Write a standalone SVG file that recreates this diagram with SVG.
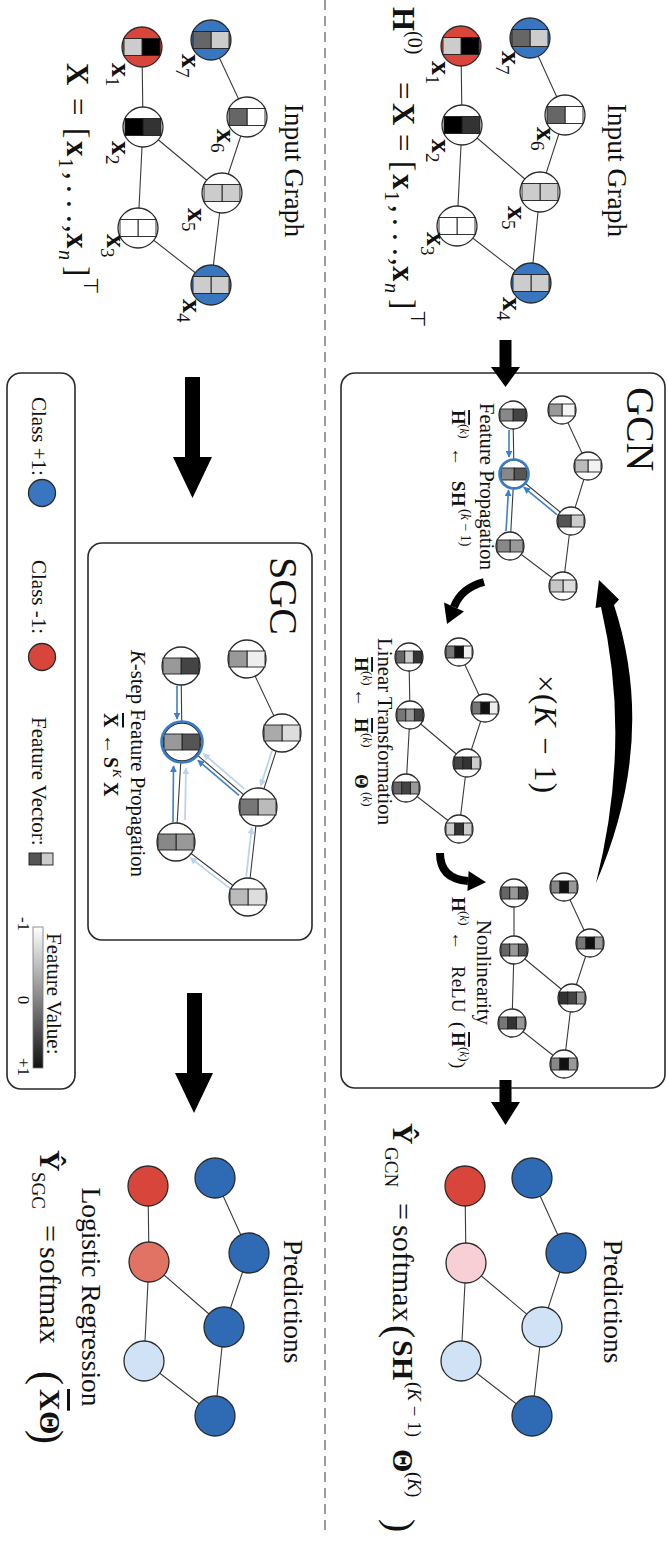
<svg xmlns="http://www.w3.org/2000/svg" width="668" height="1542" viewBox="0 0 668 1542">
<defs>
<style>
text{font-family:"Liberation Serif","Times New Roman",serif;fill:#111}
.b{font-weight:bold}
.n{font-weight:normal}
.it{font-style:italic}
.ov{text-decoration:overline}
.edge{stroke:#3a3a3a;stroke-width:1.1;fill:none}
.nd{stroke:#2a2a2a;stroke-width:1.3}
.c{stroke:#1e1e1e;stroke-width:0.9}
.ring{fill:none;stroke:#3a7cc3;stroke-width:2.6}
.prop{stroke:#3d7fcb;stroke-width:1.6;fill:none;marker-end:url(#ah)}
.prop2{stroke:#bcd3ee;stroke-width:1.8;fill:none;marker-end:url(#ah2)}
.box{fill:none;stroke:#2a2a2a;stroke-width:1.6}
.cb{fill:#3877c0}
.cr{fill:#d8463b}
.pb{fill:#2e6bb4}
.pl{fill:#cfe2f6}
.pp{fill:#f7cfd5}
.ps{fill:#e07364}
.w{fill:#fff}
.big{fill:#000}
</style>
<marker id="ah" viewBox="0 0 10 10" refX="9" refY="5" markerWidth="7" markerHeight="7" markerUnits="userSpaceOnUse" orient="auto"><path d="M0 0L10 5L0 10z" fill="#3d7fcb"/></marker>
<marker id="ah2" viewBox="0 0 10 10" refX="9" refY="5" markerWidth="7" markerHeight="7" markerUnits="userSpaceOnUse" orient="auto"><path d="M0 0L10 5L0 10z" fill="#bcd3ee"/></marker>
<linearGradient id="fv" x1="0" y1="0" x2="1" y2="0"><stop offset="0" stop-color="#fff"/><stop offset="1" stop-color="#111"/></linearGradient>
</defs>
<rect width="668" height="1542" fill="#fff"/>
<!-- the figure is laid out landscape and turned a quarter turn clockwise -->
<g transform="matrix(0 1 -1 0 668 0)">

<!-- separator between the GCN row and the SGC row -->
<line x1="0" y1="343" x2="1533" y2="343" stroke="#666" stroke-width="1.3" stroke-dasharray="10 6"/>

<!-- frames -->
<rect class="box" x="373" y="3" width="715" height="324" rx="14"/>
<rect class="box" x="543" y="356" width="397" height="224" rx="14"/>
<rect class="box" x="373" y="593" width="716" height="68" rx="14"/>

<g id="connectors">
  <!-- graph edges -->
  <path class="edge" d="M38 138L115 103L192 128L283 137M46 207L125 206L226 211L283 137M125 206L192 128"/>
  <path class="edge" d="M40 457L117 421L193 446L285 457M47 526L127 525L228 530L285 457M127 525L193 446"/>
  <path class="edge" d="M410 106L466 80L521 97L586 105M415 155L474 154L546 158L586 105M474 154L521 97"/>
  <path class="edge" d="M652 209L708 183L763 201L829 209M657 259L715 258L788 262L829 209M715 258L763 201"/>
  <path class="edge" d="M887 104L943 78L998 96L1064 104M893 154L950 154L1023 156L1064 104M950 154L998 96"/>
  <path class="edge" d="M1178 136L1253 102L1327 126L1416 136M1186 203L1263 202L1361 207L1416 136M1263 202L1327 126"/>
  <path class="edge" d="M659 421L733 386L807 410L897 420M666 487L742 486L842 492L897 420M742 486L807 410"/>
  <path class="edge" d="M1178 453L1253 419L1327 444L1416 453M1186 520L1262 519L1361 524L1416 453M1262 519L1327 444"/>

  <!-- one-hop propagation inside the GCN layer -->
  <line class="prop" x1="430" y1="159" x2="457" y2="159"/>
  <line class="prop" x1="531" y1="162" x2="490" y2="159.5"/>
  <line class="prop" x1="514.6" y1="111.1" x2="487.3" y2="144.2"/>

  <!-- K-step propagation in SGC -->
  <line class="prop2" x1="750.8" y1="396" x2="785.8" y2="407.3"/>
  <line class="prop2" x1="876.7" y1="421.8" x2="827.5" y2="416.3"/>
  <line class="prop2" x1="888.1" y1="438.3" x2="857.9" y2="477.7"/>
  <line class="prop2" x1="820" y1="483" x2="768" y2="482"/>
  <line class="prop2" x1="788.9" y1="423.5" x2="753.8" y2="464.5"/>
  <line class="prop" x1="686" y1="491" x2="719" y2="491"/>
  <line class="prop" x1="822" y1="495" x2="766" y2="494.5"/>
  <line class="prop" x1="795.4" y1="429" x2="760.3" y2="470.1"/>

  <!-- block arrows between stages -->
  <polygon class="big" points="340,156.5 367,156.5 367,148 387,162.5 367,177 367,168.5 340,168.5"/>
  <polygon class="big" points="1080,156.5 1102,156.5 1102,148 1125,162.5 1102,177 1102,168.5 1080,168.5"/>
  <polygon class="big" points="377,468 457,468 457,456 498,475.5 457,495 457,483 377,483"/>
  <polygon class="big" points="993,466 1073,466 1073,455 1113,474 1073,493 1073,481 993,481"/>

  <!-- layer loop -->
  <path class="big" d="M883 72Q740 10 605 54L599.5 49L580 69L608 72.5L607 67Q740 36 883 72Z"/>
  <path d="M582 184Q588 207 607 214" fill="none" stroke="#000" stroke-width="8"/>
  <polygon class="big" points="602.5,224 624,221 611.5,204"/>
  <path d="M853 228Q879 228 881 200" fill="none" stroke="#000" stroke-width="8"/>
  <polygon class="big" points="891,200.6 882.2,182 871,199.4"/>
</g>

<!-- GCN input graph -->
<g id="gcn-in-x7" transform="translate(38 138)"><circle class="nd cb" r="20"/><rect class="c" x="-8.5" y="-18" width="17" height="18" fill="#ccc"/><rect class="c" x="-8.5" y="0" width="17" height="18" fill="#666"/></g>
<g id="gcn-in-x6" transform="translate(115 103)"><circle class="nd w" r="20"/><rect class="c" x="-8.5" y="-18" width="17" height="18" fill="#fff"/><rect class="c" x="-8.5" y="0" width="17" height="18" fill="#666"/></g>
<g id="gcn-in-x5" transform="translate(192 128)"><circle class="nd w" r="20"/><rect class="c" x="-8.5" y="-18" width="17" height="18" fill="#ccc"/><rect class="c" x="-8.5" y="0" width="17" height="18" fill="#ccc"/></g>
<g id="gcn-in-x4" transform="translate(283 137)"><circle class="nd cb" r="20"/><rect class="c" x="-8.5" y="-18" width="17" height="18" fill="#ccc"/><rect class="c" x="-8.5" y="0" width="17" height="18" fill="#ccc"/></g>
<g id="gcn-in-x1" transform="translate(46 207)"><circle class="nd cr" r="20"/><rect class="c" x="-8.5" y="-18" width="17" height="18" fill="#000"/><rect class="c" x="-8.5" y="0" width="17" height="18" fill="#ccc"/></g>
<g id="gcn-in-x2" transform="translate(125 206)"><circle class="nd w" r="20"/><rect class="c" x="-8.5" y="-18" width="17" height="18" fill="#333"/><rect class="c" x="-8.5" y="0" width="17" height="18" fill="#000"/></g>
<g id="gcn-in-x3" transform="translate(226 211)"><circle class="nd w" r="20"/><rect class="c" x="-8.5" y="-18" width="17" height="18" fill="#fff"/><rect class="c" x="-8.5" y="0" width="17" height="18" fill="#fff"/></g>
<g id="gcn-in-labels" font-size="28">
  <text x="51" y="166" class="b">x<tspan class="n" font-size="19" dy="6">7</tspan></text>
  <text x="61" y="236" class="b">x<tspan class="n" font-size="19" dy="6">1</tspan></text>
  <text x="139" y="236" class="b">x<tspan class="n" font-size="19" dy="6">2</tspan></text>
  <text x="127" y="131" class="b">x<tspan class="n" font-size="19" dy="6">6</tspan></text>
  <text x="206" y="160" class="b">x<tspan class="n" font-size="19" dy="6">5</tspan></text>
  <text x="232" y="241" class="b">x<tspan class="n" font-size="19" dy="6">3</tspan></text>
  <text x="297" y="165" class="b">x<tspan class="n" font-size="19" dy="6">4</tspan></text>
</g>
<text x="170.5" y="60" font-size="27.5" text-anchor="middle">Input Graph</text>
<text y="275" font-size="31"><tspan x="7" class="b">H</tspan><tspan x="31" y="260" font-size="20">(0)</tspan><tspan x="82" y="275">=</tspan><tspan x="103" class="b">X</tspan><tspan x="134">=</tspan><tspan x="161">[</tspan><tspan x="174" class="b">x</tspan><tspan x="191" y="283" font-size="20">1</tspan><tspan x="205" y="275">,</tspan><tspan x="218">.</tspan><tspan x="233">.</tspan><tspan x="248">.</tspan><tspan x="258">,</tspan><tspan x="266" class="b">x</tspan><tspan x="283" y="283" font-size="20" class="it">n</tspan><tspan x="299" y="275">]</tspan><tspan x="310" y="257" font-size="20">⊤</tspan></text>

<!-- SGC input graph -->
<g id="sgc-in-x7" transform="translate(40 457)"><circle class="nd cb" r="20"/><rect class="c" x="-8.5" y="-18" width="17" height="18" fill="#ccc"/><rect class="c" x="-8.5" y="0" width="17" height="18" fill="#666"/></g>
<g id="sgc-in-x6" transform="translate(117 421)"><circle class="nd w" r="20"/><rect class="c" x="-8.5" y="-18" width="17" height="18" fill="#fff"/><rect class="c" x="-8.5" y="0" width="17" height="18" fill="#666"/></g>
<g id="sgc-in-x5" transform="translate(193 446)"><circle class="nd w" r="20"/><rect class="c" x="-8.5" y="-18" width="17" height="18" fill="#ccc"/><rect class="c" x="-8.5" y="0" width="17" height="18" fill="#ccc"/></g>
<g id="sgc-in-x4" transform="translate(285 457)"><circle class="nd cb" r="20"/><rect class="c" x="-8.5" y="-18" width="17" height="18" fill="#ccc"/><rect class="c" x="-8.5" y="0" width="17" height="18" fill="#ccc"/></g>
<g id="sgc-in-x1" transform="translate(47 526)"><circle class="nd cr" r="20"/><rect class="c" x="-8.5" y="-18" width="17" height="18" fill="#000"/><rect class="c" x="-8.5" y="0" width="17" height="18" fill="#ccc"/></g>
<g id="sgc-in-x2" transform="translate(127 525)"><circle class="nd w" r="20"/><rect class="c" x="-8.5" y="-18" width="17" height="18" fill="#333"/><rect class="c" x="-8.5" y="0" width="17" height="18" fill="#000"/></g>
<g id="sgc-in-x3" transform="translate(228 530)"><circle class="nd w" r="20"/><rect class="c" x="-8.5" y="-18" width="17" height="18" fill="#fff"/><rect class="c" x="-8.5" y="0" width="17" height="18" fill="#fff"/></g>
<g id="sgc-in-labels" font-size="28">
  <text x="54" y="486" class="b">x<tspan class="n" font-size="19" dy="6">7</tspan></text>
  <text x="63" y="556" class="b">x<tspan class="n" font-size="19" dy="6">1</tspan></text>
  <text x="141" y="556" class="b">x<tspan class="n" font-size="19" dy="6">2</tspan></text>
  <text x="129" y="451" class="b">x<tspan class="n" font-size="19" dy="6">6</tspan></text>
  <text x="208" y="480" class="b">x<tspan class="n" font-size="19" dy="6">5</tspan></text>
  <text x="234" y="561" class="b">x<tspan class="n" font-size="19" dy="6">3</tspan></text>
  <text x="299" y="485" class="b">x<tspan class="n" font-size="19" dy="6">4</tspan></text>
</g>
<text x="170.5" y="383" font-size="27.5" text-anchor="middle">Input Graph</text>
<text y="601" font-size="31"><tspan x="63" class="b">X</tspan><tspan x="98">=</tspan><tspan x="128">[</tspan><tspan x="141" class="b">x</tspan><tspan x="158" y="609" font-size="20">1</tspan><tspan x="172" y="601">,</tspan><tspan x="185">.</tspan><tspan x="200">.</tspan><tspan x="215">.</tspan><tspan x="225">,</tspan><tspan x="233" class="b">x</tspan><tspan x="250" y="609" font-size="20" class="it">n</tspan><tspan x="266" y="601">]</tspan><tspan x="277" y="584" font-size="20">⊤</tspan></text>

<!-- GCN layer: feature propagation -->
<text x="387" y="41" font-size="40">GCN</text>
<g id="s1-x7" transform="translate(410 106)"><circle class="nd w" r="14"/><rect class="c" x="-6" y="-13" width="12" height="13" fill="#f4f4f4"/><rect class="c" x="-6" y="0" width="12" height="13" fill="#999"/></g>
<g id="s1-x6" transform="translate(466 80)"><circle class="nd w" r="14"/><rect class="c" x="-6" y="-13" width="12" height="13" fill="#f2f2f2"/><rect class="c" x="-6" y="0" width="12" height="13" fill="#bbb"/></g>
<g id="s1-x5" transform="translate(521 97)"><circle class="nd w" r="14"/><rect class="c" x="-6" y="-13" width="12" height="13" fill="#ccc"/><rect class="c" x="-6" y="0" width="12" height="13" fill="#555"/></g>
<g id="s1-x4" transform="translate(586 105)"><circle class="nd w" r="14"/><rect class="c" x="-6" y="-13" width="12" height="13" fill="#ddd"/><rect class="c" x="-6" y="0" width="12" height="13" fill="#c6c6c6"/></g>
<g id="s1-x1" transform="translate(415 155)"><circle class="nd w" r="14"/><rect class="c" x="-6" y="-13" width="12" height="13" fill="#444"/><rect class="c" x="-6" y="0" width="12" height="13" fill="#888"/></g>
<g id="s1-x2" transform="translate(474 154)"><circle class="nd w" r="14"/><rect class="c" x="-6" y="-13" width="12" height="13" fill="#555"/><rect class="c" x="-6" y="0" width="12" height="13" fill="#888"/><circle class="ring" r="14.5"/></g>
<g id="s1-x3" transform="translate(546 158)"><circle class="nd w" r="14"/><rect class="c" x="-6" y="-13" width="12" height="13" fill="#999"/><rect class="c" x="-6" y="0" width="12" height="13" fill="#888"/></g>
<text x="486.5" y="188" font-size="20.5" text-anchor="middle" textLength="167" lengthAdjust="spacingAndGlyphs">Feature Propagation</text>
<text y="216" font-size="19"><tspan x="410" class="b ov">H</tspan><tspan x="424" y="208" font-size="13">(<tspan class="it">k</tspan>)</tspan><tspan x="447" y="216">←</tspan><tspan x="481" class="b">S</tspan><tspan x="492" class="b">H</tspan><tspan x="509" y="207" font-size="14">(<tspan class="it">k</tspan> − 1)</tspan></text>

<!-- GCN layer: linear transformation -->
<g id="s2-x7" transform="translate(652 209)"><circle class="nd w" r="14"/><rect class="c" x="-6" y="-13" width="12" height="8.67" fill="#f2f2f2"/><rect class="c" x="-6" y="-4.33" width="12" height="8.67" fill="#111"/><rect class="c" x="-6" y="4.33" width="12" height="8.67" fill="#777"/></g>
<g id="s2-x6" transform="translate(708 183)"><circle class="nd w" r="14"/><rect class="c" x="-6" y="-13" width="12" height="8.67" fill="#eee"/><rect class="c" x="-6" y="-4.33" width="12" height="8.67" fill="#111"/><rect class="c" x="-6" y="4.33" width="12" height="8.67" fill="#777"/></g>
<g id="s2-x5" transform="translate(763 201)"><circle class="nd w" r="14"/><rect class="c" x="-6" y="-13" width="12" height="8.67" fill="#ccc"/><rect class="c" x="-6" y="-4.33" width="12" height="8.67" fill="#333"/><rect class="c" x="-6" y="4.33" width="12" height="8.67" fill="#444"/></g>
<g id="s2-x4" transform="translate(829 209)"><circle class="nd w" r="14"/><rect class="c" x="-6" y="-13" width="12" height="8.67" fill="#ccc"/><rect class="c" x="-6" y="-4.33" width="12" height="8.67" fill="#333"/><rect class="c" x="-6" y="4.33" width="12" height="8.67" fill="#ccc"/></g>
<g id="s2-x1" transform="translate(657 259)"><circle class="nd w" r="14"/><rect class="c" x="-6" y="-13" width="12" height="8.67" fill="#333"/><rect class="c" x="-6" y="-4.33" width="12" height="8.67" fill="#ccc"/><rect class="c" x="-6" y="4.33" width="12" height="8.67" fill="#666"/></g>
<g id="s2-x2" transform="translate(715 258)"><circle class="nd w" r="14"/><rect class="c" x="-6" y="-13" width="12" height="8.67" fill="#444"/><rect class="c" x="-6" y="-4.33" width="12" height="8.67" fill="#999"/><rect class="c" x="-6" y="4.33" width="12" height="8.67" fill="#777"/></g>
<g id="s2-x3" transform="translate(788 262)"><circle class="nd w" r="14"/><rect class="c" x="-6" y="-13" width="12" height="8.67" fill="#999"/><rect class="c" x="-6" y="-4.33" width="12" height="8.67" fill="#444"/><rect class="c" x="-6" y="4.33" width="12" height="8.67" fill="#666"/></g>
<text x="675" y="133" font-size="31" textLength="118" lengthAdjust="spacing">×(<tspan class="it">K</tspan> − 1)</text>
<text x="731.5" y="290" font-size="20.5" text-anchor="middle" textLength="187" lengthAdjust="spacingAndGlyphs">Linear Transformation</text>
<text y="313" font-size="19"><tspan x="657" class="b ov">H</tspan><tspan x="671" y="305" font-size="13">(<tspan class="it">k</tspan>)</tspan><tspan x="688" y="313">←</tspan><tspan x="718" class="b ov">H</tspan><tspan x="733" y="305" font-size="13">(<tspan class="it">k</tspan>)</tspan><tspan x="774" y="313" class="b">Θ</tspan><tspan x="792" y="305" font-size="13">(<tspan class="it">k</tspan>)</tspan></text>

<!-- GCN layer: nonlinearity -->
<g id="s3-x7" transform="translate(887 104)"><circle class="nd w" r="14"/><rect class="c" x="-6" y="-13" width="12" height="8.67" fill="#999"/><rect class="c" x="-6" y="-4.33" width="12" height="8.67" fill="#111"/><rect class="c" x="-6" y="4.33" width="12" height="8.67" fill="#888"/></g>
<g id="s3-x6" transform="translate(943 78)"><circle class="nd w" r="14"/><rect class="c" x="-6" y="-13" width="12" height="8.67" fill="#999"/><rect class="c" x="-6" y="-4.33" width="12" height="8.67" fill="#111"/><rect class="c" x="-6" y="4.33" width="12" height="8.67" fill="#777"/></g>
<g id="s3-x5" transform="translate(998 96)"><circle class="nd w" r="14"/><rect class="c" x="-6" y="-13" width="12" height="8.67" fill="#999"/><rect class="c" x="-6" y="-4.33" width="12" height="8.67" fill="#444"/><rect class="c" x="-6" y="4.33" width="12" height="8.67" fill="#333"/></g>
<g id="s3-x4" transform="translate(1064 104)"><circle class="nd w" r="14"/><rect class="c" x="-6" y="-13" width="12" height="8.67" fill="#999"/><rect class="c" x="-6" y="-4.33" width="12" height="8.67" fill="#111"/><rect class="c" x="-6" y="4.33" width="12" height="8.67" fill="#888"/></g>
<g id="s3-x1" transform="translate(893 154)"><circle class="nd w" r="14"/><rect class="c" x="-6" y="-13" width="12" height="8.67" fill="#444"/><rect class="c" x="-6" y="-4.33" width="12" height="8.67" fill="#999"/><rect class="c" x="-6" y="4.33" width="12" height="8.67" fill="#666"/></g>
<g id="s3-x2" transform="translate(950 154)"><circle class="nd w" r="14"/><rect class="c" x="-6" y="-13" width="12" height="8.67" fill="#555"/><rect class="c" x="-6" y="-4.33" width="12" height="8.67" fill="#999"/><rect class="c" x="-6" y="4.33" width="12" height="8.67" fill="#666"/></g>
<g id="s3-x3" transform="translate(1023 156)"><circle class="nd w" r="14"/><rect class="c" x="-6" y="-13" width="12" height="8.67" fill="#999"/><rect class="c" x="-6" y="-4.33" width="12" height="8.67" fill="#333"/><rect class="c" x="-6" y="4.33" width="12" height="8.67" fill="#777"/></g>
<text x="972.5" y="191" font-size="20.5" text-anchor="middle" textLength="105" lengthAdjust="spacingAndGlyphs">Nonlinearity</text>
<text y="216" font-size="19"><tspan x="897" class="b">H</tspan><tspan x="911" y="208" font-size="13">(<tspan class="it">k</tspan>)</tspan><tspan x="931" y="216">←</tspan><tspan x="966">ReLU</tspan><tspan x="1022">(</tspan><tspan x="1032" class="b ov">H</tspan><tspan x="1047" y="208" font-size="13">(<tspan class="it">k</tspan>)</tspan><tspan x="1062" y="216">)</tspan></text>

<!-- GCN predictions -->
<g id="pg-x7" transform="translate(1178 136)"><circle class="nd pb" r="20"/></g>
<g id="pg-x6" transform="translate(1253 102)"><circle class="nd pb" r="20"/></g>
<g id="pg-x5" transform="translate(1327 126)"><circle class="nd pl" r="20"/></g>
<g id="pg-x4" transform="translate(1416 136)"><circle class="nd pb" r="20"/></g>
<g id="pg-x1" transform="translate(1186 203)"><circle class="nd cr" r="20"/></g>
<g id="pg-x2" transform="translate(1263 202)"><circle class="nd pp" r="20"/></g>
<g id="pg-x3" transform="translate(1361 207)"><circle class="nd pl" r="20"/></g>
<text x="1301.5" y="64" font-size="27.5" text-anchor="middle">Predictions</text>
<text y="275" font-size="30"><tspan x="1123" class="b">Ŷ</tspan><tspan x="1147" y="283" font-size="19">GCN</tspan><tspan x="1203" y="275">=</tspan><tspan x="1225">softmax</tspan></text>
<text x="1325" y="281" font-size="40">(</text>
<text y="275" font-size="30"><tspan x="1340" class="b">S</tspan><tspan x="1357" class="b">H</tspan><tspan x="1382" y="260" font-size="19">(<tspan class="it">K</tspan> − 1)</tspan><tspan x="1449" y="275" class="b">Θ</tspan><tspan x="1472" y="260" font-size="19">(<tspan class="it">K</tspan>)</tspan></text>
<text x="1519" y="281" font-size="40">)</text>

<!-- SGC: K-step propagation -->
<text x="557" y="398" font-size="40">SGC</text>
<g id="sg-x7" transform="translate(659 421)"><circle class="nd w" r="19"/><rect class="c" x="-8" y="-18" width="16" height="18" fill="#eee"/><rect class="c" x="-8" y="0" width="16" height="18" fill="#999"/></g>
<g id="sg-x6" transform="translate(733 386)"><circle class="nd w" r="19"/><rect class="c" x="-8" y="-18" width="16" height="18" fill="#ddd"/><rect class="c" x="-8" y="0" width="16" height="18" fill="#aaa"/></g>
<g id="sg-x5" transform="translate(807 410)"><circle class="nd w" r="19"/><rect class="c" x="-8" y="-18" width="16" height="18" fill="#bbb"/><rect class="c" x="-8" y="0" width="16" height="18" fill="#777"/></g>
<g id="sg-x4" transform="translate(897 420)"><circle class="nd w" r="19"/><rect class="c" x="-8" y="-18" width="16" height="18" fill="#ddd"/><rect class="c" x="-8" y="0" width="16" height="18" fill="#bbb"/></g>
<g id="sg-x1" transform="translate(666 487)"><circle class="nd w" r="19"/><rect class="c" x="-8" y="-18" width="16" height="18" fill="#444"/><rect class="c" x="-8" y="0" width="16" height="18" fill="#999"/></g>
<g id="sg-x2" transform="translate(742 486)"><circle class="nd w" r="19"/><rect class="c" x="-8" y="-18" width="16" height="18" fill="#555"/><rect class="c" x="-8" y="0" width="16" height="18" fill="#999"/><circle class="ring" r="20.5" stroke-width="3"/></g>
<g id="sg-x3" transform="translate(842 492)"><circle class="nd w" r="19"/><rect class="c" x="-8" y="-18" width="16" height="18" fill="#999"/><rect class="c" x="-8" y="0" width="16" height="18" fill="#888"/></g>
<text x="650" y="537" font-size="20" textLength="227" lengthAdjust="spacingAndGlyphs"><tspan class="it">K</tspan>-step Feature Propagation</text>
<text y="564" font-size="20"><tspan x="713" class="b ov">X</tspan><tspan x="734">←</tspan><tspan x="757" class="b">S</tspan><tspan x="769" y="555" font-size="13" class="it">K</tspan><tspan x="782" y="564" class="b">X</tspan></text>

<!-- SGC predictions -->
<g id="ps-x7" transform="translate(1178 453)"><circle class="nd pb" r="20"/></g>
<g id="ps-x6" transform="translate(1253 419)"><circle class="nd pb" r="20"/></g>
<g id="ps-x5" transform="translate(1327 444)"><circle class="nd pb" r="20"/></g>
<g id="ps-x4" transform="translate(1416 453)"><circle class="nd pb" r="20"/></g>
<g id="ps-x1" transform="translate(1186 520)"><circle class="nd cr" r="20"/></g>
<g id="ps-x2" transform="translate(1262 519)"><circle class="nd ps" r="20"/></g>
<g id="ps-x3" transform="translate(1361 524)"><circle class="nd pl" r="20"/></g>
<text x="1301.5" y="384" font-size="27.5" text-anchor="middle">Predictions</text>
<text x="1297" y="586" font-size="27.5" text-anchor="middle">Logistic Regression</text>
<text y="628" font-size="30"><tspan x="1150" class="b">Ŷ</tspan><tspan x="1172" y="636" font-size="19">SGC</tspan><tspan x="1225" y="628">=</tspan><tspan x="1247">softmax</tspan></text>
<text x="1371" y="634" font-size="42">(</text>
<text y="628" font-size="30"><tspan x="1389" class="b ov">X</tspan><tspan x="1411" class="b">Θ</tspan></text>
<text x="1430" y="634" font-size="42">)</text>

<!-- legend -->
<g id="legend">
  <text x="397" y="636" font-size="21">Class +1:</text>
  <circle class="nd cb" cx="493" cy="626" r="13.5"/>
  <text x="560" y="636" font-size="21">Class -1:</text>
  <circle class="nd cr" cx="657" cy="626" r="13.5"/>
  <text x="717" y="636" font-size="21">Feature Vector:</text>
  <rect class="c" x="853" y="615" width="12" height="12" fill="#ccc"/>
  <rect class="c" x="853" y="627" width="12" height="12" fill="#555"/>
  <text x="933" y="621" font-size="21">Feature Value:</text>
  <rect x="927" y="625" width="141" height="10" fill="url(#fv)" stroke="#777" stroke-width="0.8"/>
  <text x="924" y="650" font-size="17" text-anchor="middle">-1</text>
  <text x="1000" y="650" font-size="17" text-anchor="middle">0</text>
  <text x="1067" y="650" font-size="17" text-anchor="middle">+1</text>
</g>
</g>
</svg>
